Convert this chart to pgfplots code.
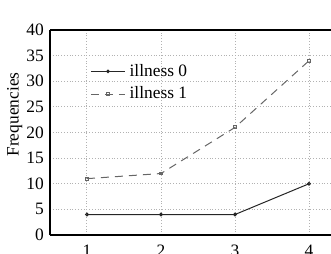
\documentclass[border=0pt]{standalone}
\usepackage{pgfplots}
\pgfplotsset{compat=1.18}
\usepackage{fontspec}
\setmainfont{Liberation Serif}
\begin{document}
\fontsize{8.7}{10}\selectfont
\begin{tikzpicture}
\path[use as bounding box, clip] (-25pt,-9pt) rectangle (140.5pt,117.5pt);
\begin{axis}[
  at={(0pt,0pt)}, anchor=south west,
  scale only axis,
  width=148pt, height=102.5pt,
  xmin=0.5, xmax=4.5, ymin=0, ymax=40,
  axis x line=box, axis y line=left,
  xtick={1,2,3,4}, ytick={0,5,...,40},
  major tick length=0pt,
  grid=major,
  major grid style={densely dotted, color=black!30, line width=0.5pt},
  axis line style={black, line width=0.6pt, -},
  /pgf/number format/assume math mode=true,
  ticklabel style={font=\fontsize{8.7}{10}\selectfont},
  xticklabel style={yshift=-2pt},
  ylabel={Frequencies},
  ylabel style={font=\fontsize{8.7}{10}\selectfont, at={(ticklabel cs:0.588)}, yshift=-4pt},
  legend style={draw=none, fill=none, at={(rel axis cs:0.115,0.875)}, anchor=north west, font=\fontsize{8.7}{10}\selectfont, row sep=0pt},
  legend cell align=left,
]
\addplot[color=black!85, line width=0.5pt, mark=o, mark size=0.7pt] coordinates {(1,4) (2,4) (3,4) (4,10)};
\addlegendentry{illness 0}
\addplot[color=black!60, line width=0.5pt, dash pattern=on 4pt off 3pt, mark=square, mark size=0.7pt, mark options={solid}] coordinates {(1,11) (2,12) (3,21) (4,34)};
\addlegendentry{illness 1}
\draw[line width=1pt] (rel axis cs:0,0) -- (rel axis cs:1,0);
\end{axis}
\end{tikzpicture}
\end{document}
